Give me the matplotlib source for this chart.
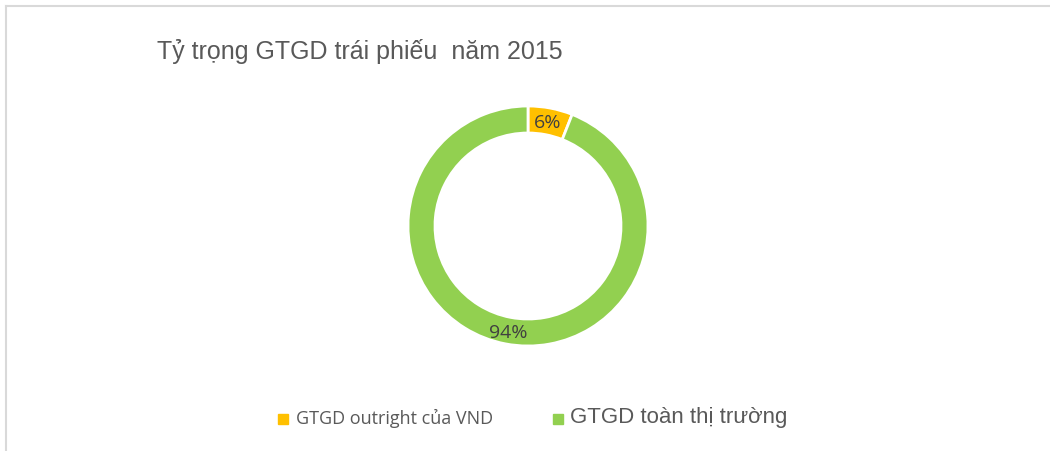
import matplotlib.pyplot as plt
from matplotlib.lines import Line2D

# data
labels = ["GTGD outright của VND", "GTGD toàn thị trường"]
shares = [6, 94]
colors = ["#FFC000", "#92D050"]
title = "Tỷ trọng GTGD trái phiếu  năm 2015"

W, H = 1050, 451
fig = plt.figure(figsize=(W / 100, H / 100), dpi=100)

# chart area border (top and left only visible)
fig.add_artist(Line2D([6 / W, 1], [1 - 6 / H, 1 - 6 / H], color="#D9D9D9", lw=1.5))
fig.add_artist(Line2D([6 / W, 6 / W], [0, 1 - 6 / H], color="#D9D9D9", lw=1.5))

# donut
cx, cy, r = 528, 226, 120
ax = fig.add_axes([(cx - r) / W, (H - cy - r) / H, 2 * r / W, 2 * r / H])
wedges, _, autotexts = ax.pie(
    shares, colors=colors, startangle=90, counterclock=False,
    autopct="%d%%", pctdistance=0.887,
    wedgeprops=dict(width=0.225, edgecolor="white", linewidth=2),
    textprops=dict(fontfamily="Open Sans", fontsize=14, color="#404040"),
)
for t in autotexts:
    t.set_va("center_baseline")
ax.set_xlim(-1, 1)
ax.set_ylim(-1, 1)

fig.text(157 / W, 1 - 51 / H, title, fontfamily="Liberation Sans",
         fontsize=18, color="#595959", va="center", ha="left")

# legend
handles = [Line2D([], [], ls="none", marker="s", markersize=6.5,
                  markerfacecolor=c, markeredgecolor=c) for c in colors]
leg = fig.legend(handles, labels, loc="center", bbox_to_anchor=(533 / W, 1 - 418 / H),
                 ncol=2, frameon=False, fontsize=10, handlelength=0.7,
                 handletextpad=0.55, columnspacing=4.3)
t1, t2 = leg.get_texts()
t1.set_fontfamily("Open Sans")
t1.set_fontsize(13)
t2.set_fontfamily("Liberation Sans")
t2.set_fontsize(16)
for t in leg.get_texts():
    t.set_color("#595959")

fig.savefig("out.png", dpi=100)
